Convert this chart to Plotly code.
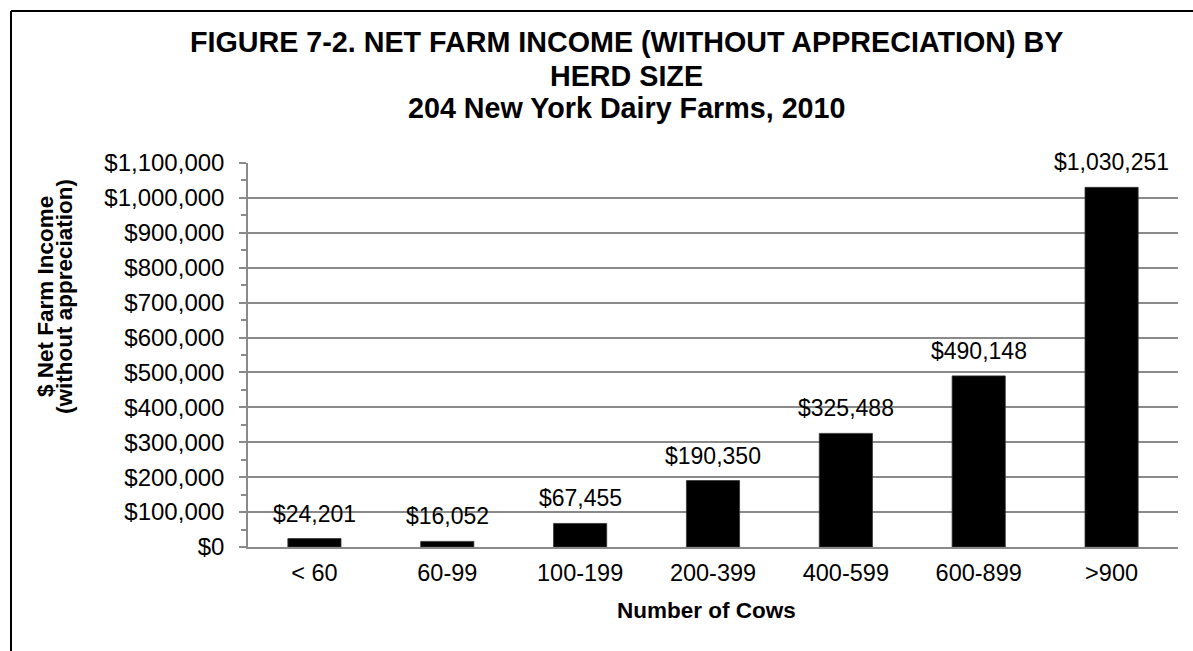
import plotly.graph_objects as go

# Herd-size classes and average net farm income (without appreciation), 2010
herd_sizes = ["< 60", "60-99", "100-199", "200-399", "400-599", "600-899", ">900"]
net_income = [24201, 16052, 67455, 190350, 325488, 490148, 1030251]

title_lines = [
    "FIGURE 7-2. NET FARM INCOME (WITHOUT APPRECIATION) BY",
    "HERD SIZE",
    "204 New York Dairy Farms, 2010",
]
y_title_lines = ["$ Net Farm Income", "(without appreciation)"]
x_title = "Number of Cows"

W, H = 1193, 651
L, R, T, B = 248, 15, 163, 104
FONT = "Liberation Sans, Arial, sans-serif"
GRID = "#8a8a8a"


def px_x(x):
    return (x - L) / (W - L - R)


def px_y(y):
    return (H - B - y) / (H - T - B)


fig = go.Figure(
    go.Bar(
        x=herd_sizes,
        y=net_income,
        width=0.4,
        marker=dict(color="black", line=dict(color="#333333", width=0.8)),
        hoverinfo="x+y",
    )
)

annotations = []

# value labels above each bar
for cat, val in zip(herd_sizes, net_income):
    annotations.append(dict(
        x=cat, y=val, xref="x", yref="y",
        text=f"${val:,}", showarrow=False,
        yanchor="middle", yshift=25,
        font=dict(family=FONT, size=23, color="black"),
    ))

# chart title, one annotation per line
for line, cy in zip(title_lines, [42, 75.5, 107.5]):
    annotations.append(dict(
        x=px_x(626), y=px_y(cy), xref="paper", yref="paper",
        text=f"<b>{line}</b>", showarrow=False,
        xanchor="center", yanchor="middle",
        font=dict(family=FONT, size=28.7, color="black"),
    ))

# rotated y-axis title, two lines
for line, cx in zip(y_title_lines, [45, 64]):
    annotations.append(dict(
        x=px_x(cx), y=px_y(297), xref="paper", yref="paper",
        text=f"<b>{line}</b>", showarrow=False, textangle=-90,
        xanchor="center", yanchor="middle",
        font=dict(family=FONT, size=22.5, color="black"),
    ))

# x-axis title
annotations.append(dict(
    x=px_x(706), y=px_y(610.5), xref="paper", yref="paper",
    text=f"<b>{x_title}</b>", showarrow=False,
    xanchor="center", yanchor="middle",
    font=dict(family=FONT, size=22.5, color="black"),
))

fig.update_layout(
    width=W, height=H,
    margin=dict(l=L, r=R, t=T, b=B, pad=0),
    paper_bgcolor="white", plot_bgcolor="white",
    showlegend=False,
    font=dict(family=FONT, size=23, color="black"),
    annotations=annotations,
    shapes=[
        # chart-area frame (top and left edges)
        dict(type="line", xref="paper", yref="paper",
             x0=px_x(11), x1=px_x(1300), y0=px_y(11), y1=px_y(11),
             line=dict(color="black", width=2)),
        dict(type="line", xref="paper", yref="paper",
             x0=px_x(11), x1=px_x(11), y0=px_y(11), y1=px_y(700),
             line=dict(color="black", width=2)),
    ],
)

fig.update_xaxes(
    showgrid=False, showline=True, linecolor=GRID, linewidth=1.5,
    ticks="", tickfont=dict(family=FONT, size=23.5, color="black"),
    ticklabelstandoff=4,
)

fig.update_yaxes(
    range=[0, 1100000], dtick=100000,
    tickprefix="$", tickformat=",d",
    showgrid=True, gridcolor=GRID, gridwidth=1.5,
    showline=True, linecolor=GRID, linewidth=1.5,
    ticks="outside", ticklen=7, tickcolor=GRID, tickwidth=1.5,
    minor=dict(dtick=50000, ticks="outside", ticklen=5, tickcolor=GRID,
               tickwidth=1.5, showgrid=False),
    tickfont=dict(family=FONT, size=24, color="black"),
    ticklabelstandoff=10,
    zeroline=False,
)

fig.write_html("out.html")
